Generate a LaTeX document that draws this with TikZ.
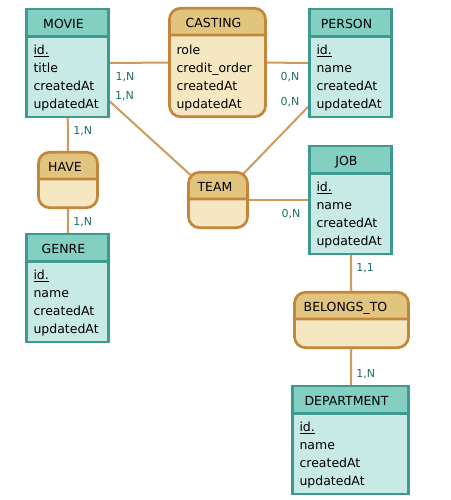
\documentclass[tikz,border=0pt]{standalone}
\usepackage{fontspec}
\setmainfont{DejaVu Sans}
\usetikzlibrary{shapes.multipart,backgrounds}

\definecolor{enthead}{HTML}{83CFC2}
\definecolor{entbody}{HTML}{C8EAE4}
\definecolor{entborder}{HTML}{3E9A90}
\definecolor{assohead}{HTML}{E1C47E}
\definecolor{assobody}{HTML}{F6E7C3}
\definecolor{assoborder}{HTML}{C4873A}
\definecolor{linkcol}{HTML}{CF9A5E}
\definecolor{cardcol}{HTML}{1D6E68}

% struts for the header and the attribute lines
\newcommand{\headline}[1]{\rule[-6pt]{0pt}{24.5pt}#1\hspace*{8pt}}
\newcommand{\attrtop}{\rule{0pt}{17pt}}
\newcommand{\attrbot}{\rule[-7pt]{0pt}{7pt}}

\tikzset{
	boxbase/.style={rectangle split, rectangle split parts=2,
		rectangle split part align={center,left}, align=left,
		inner xsep=7pt, inner ysep=0pt, line width=2.7pt,
		font=\fontsize{12.5}{18}\selectfont},
	entity/.style={boxbase, draw=entborder,
		rectangle split part fill={enthead,entbody}, minimum width=82pt},
	asso/.style={boxbase, draw=assoborder, rounded corners=11pt,
		rectangle split part fill={assohead,assobody}},
	link/.style={draw=linkcol, line width=2pt},
	card/.style={text=cardcol, font=\fontsize{11}{13}\selectfont,
		inner sep=0pt, anchor=base west}
}

\begin{document}
\begin{tikzpicture}[x=1pt,y=-1pt]
	\useasboundingbox (0,0) rectangle (450,500);

	% entities
	\node[entity] (movie) at (67.5,63) {\headline{MOVIE}\nodepart{two}\attrtop\underline{id.}\\title\\createdAt\\\attrbot updatedAt};
	\node[entity] (person) at (350.5,63) {\headline{PERSON}\nodepart{two}\attrtop\underline{id.}\\name\\createdAt\\\attrbot updatedAt};
	\node[entity] (genre) at (67.5,288) {\headline{GENRE}\nodepart{two}\attrtop\underline{id.}\\name\\createdAt\\\attrbot updatedAt};
	\node[entity] (job) at (350.5,200) {\headline{JOB}\nodepart{two}\attrtop\underline{id.}\\name\\createdAt\\\attrbot updatedAt};
	\node[entity, minimum width=116pt] (department) at (350.5,440) {\headline{DEPARTMENT}\nodepart{two}\attrtop\underline{id.}\\name\\createdAt\\\attrbot updatedAt};

	% associations
	\node[asso, minimum width=96pt] (casting) at (217.5,62.5) {\rule[-6.5pt]{0pt}{24pt}CASTING\hspace*{8pt}\nodepart{two}\rule{0pt}{18pt}role\\credit\_order\\createdAt\\\attrbot updatedAt};
	\node[asso, minimum width=59pt] (have) at (68,180) {\rule[-6pt]{0pt}{24pt}HAVE\hspace*{6pt}\nodepart{two}\rule{0pt}{26pt}};
	\node[asso, minimum width=59pt] (team) at (218,200) {\rule[-6pt]{0pt}{24pt}TEAM\hspace*{6pt}\nodepart{two}\rule{0pt}{26pt}};
	\node[asso, minimum width=114pt] (belongs) at (351.5,320) {\rule[-6pt]{0pt}{24pt}BELONGS\_TO\hspace*{12pt}\nodepart{two}\rule{0pt}{26pt}};

	% links
	\begin{scope}[on background layer]
		\draw[link] (movie.center) -- (casting.center);
		\draw[link] (casting.center) -- (person.center);
		\draw[link] (movie.center) -- (team.center);
		\draw[link] (person.center) -- (team.center);
		\draw[link] (team.center) -- (job.center);
		\draw[link] (movie.center) -- (have.center);
		\draw[link] (have.center) -- (genre.center);
		\draw[link] (job.center) -- (belongs.center);
		\draw[link] (belongs.center) -- (department.center);
	\end{scope}

	% cardinalities
	\node[card] (cmc) at (115.5,81) {1,N};
	\node[card] (cmt) at (115,100) {1,N};
	\node[card] (cpc) at (280.5,80.5) {0,N};
	\node[card] (cpt) at (280.5,106) {0,N};
	\node[card] (cmh) at (73.2,134.5) {1,N};
	\node[card] (cgh) at (73.2,225.5) {1,N};
	\node[card] (cjt) at (281.5,217.5) {0,N};
	\node[card] (cjb) at (356.2,271.5) {1,1};
	\node[card] (cdb) at (356.2,377.5) {1,N};
\end{tikzpicture}
\end{document}
